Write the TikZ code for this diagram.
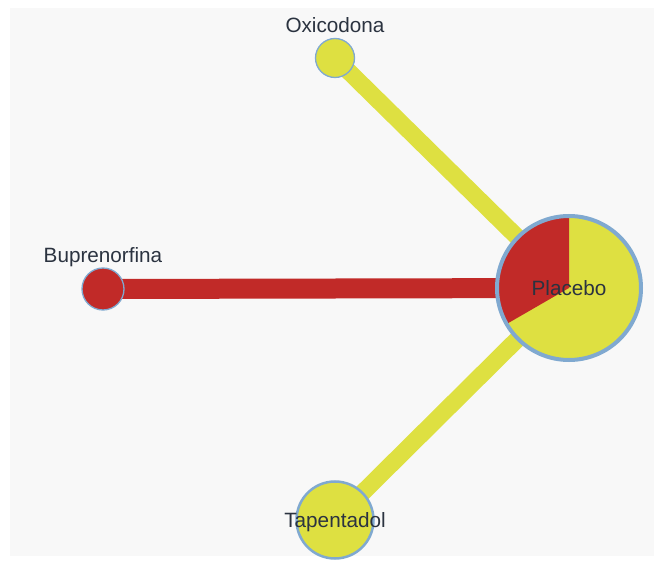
\documentclass[tikz,border=0pt]{standalone}
\usepackage{fontspec}
\setmainfont{Liberation Sans}
\definecolor{netyellow}{HTML}{DEE041}
\definecolor{netred}{HTML}{C12A28}
\definecolor{ringblue}{HTML}{80A9D0}
\definecolor{labelgray}{HTML}{2B3340}
\definecolor{panelbg}{HTML}{F8F8F8}
\usetikzlibrary{positioning,calc}
\pgfdeclarelayer{background}
\pgfsetlayers{background,main}

\begin{document}
\begin{tikzpicture}[
  x=1pt, y=-1pt,
  drug/.style={circle, draw=ringblue, line width=1.3pt, inner sep=0pt},
  tag/.style={text=labelgray, font=\fontsize{20.7}{23}\selectfont, inner sep=0pt},
  link/.style={line width=#1},
]
\useasboundingbox (0,0) rectangle (662,564);

% treatment nodes
\node[drug, fill=netyellow, minimum size=39pt] (oxi) at (335,58) {};
\node[drug, fill=netred, minimum size=42pt] (bup) at (103,289) {};
\node[drug, fill=netyellow, minimum size=77pt, line width=2.5pt] (tap) at (335,520) {};
\node[circle, minimum size=148pt, inner sep=0pt] (pla) at (569,288) {};

% placebo pie: red share then yellow share
\fill[netyellow] (pla.center) circle[radius=72];
\fill[netred] (pla.center) -- ++(-90:72) arc[start angle=-90, end angle=-210, radius=72] -- cycle;
\draw[ringblue, line width=4pt] (pla.center) circle[radius=72];

% panel and comparisons
\begin{pgfonlayer}{background}
\fill[panelbg] (10,8) rectangle (654,556);
\draw[netyellow, link=17pt] (oxi.center) -- (pla.center);
\draw[netred, link=20pt] (bup.center) -- (pla.center);
\draw[netyellow, link=17pt] (tap.center) -- (pla.center);
\end{pgfonlayer}

% labels
\node[tag, anchor=base] at ($(oxi.center)+(0,-25)$) {Oxicodona};
\node[tag, anchor=base] at ($(bup.center)+(0,-26)$) {Buprenorfina};
\node[tag, anchor=base] at ($(tap.center)+(0,7)$) {Tapentadol};
\node[tag, anchor=base] at ($(pla.center)+(0,8)$) {Placebo};
\end{tikzpicture}
\end{document}
